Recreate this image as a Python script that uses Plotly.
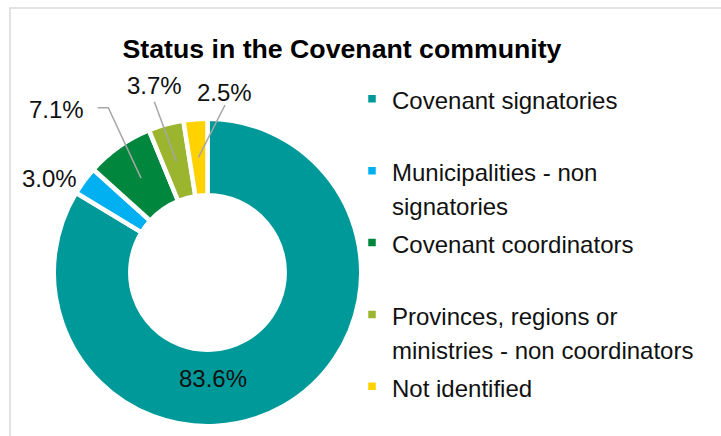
import math
import plotly.graph_objects as go

# Status categories and their shares (%)
categories = [
    "Covenant signatories",
    "Municipalities - non signatories",
    "Covenant coordinators",
    "Provinces, regions or ministries - non coordinators",
    "Not identified",
]
shares = [83.6, 3.0, 7.1, 3.7, 2.5]
colors = ["#009999", "#00B0F0", "#00873D", "#9BB52F", "#FFD200"]

# Legend text, wrapped the way it is laid out in the legend column
legend_lines = [
    ["Covenant signatories", ""],
    ["Municipalities - non", "signatories"],
    ["Covenant coordinators", ""],
    ["Provinces, regions or", "ministries - non coordinators"],
    ["Not identified"],
]

W, H = 721, 436
FONT = "Liberation Sans, Arial, sans-serif"


def px(x):
    return x / W


def py(y):
    return 1 - y / H


# donut geometry in pixels
cx, cy, R = 207.5, 272.5, 153.75
hole = 0.502
dom_x = [px(cx - R), px(cx + R)]
dom_y = [py(cy + R), py(cy - R)]


def legend_entry(lines):
    out = []
    for s in lines:
        out.append('<span style="font-size:24px">' + s + "</span>" if s else " ")
    return "<br>".join(out)


legend_text = [legend_entry(l) for l in legend_lines]

fig = go.Figure(
    go.Pie(
        labels=legend_text,
        values=shares,
        sort=False,
        direction="clockwise",
        rotation=0,
        hole=hole,
        textinfo="none",
        marker=dict(colors=colors, line=dict(color="white", width=4.5)),
        domain=dict(x=dom_x, y=dom_y),
        hoverinfo="skip",
    )
)

# label anchor positions (pixels) and leader line start points
label_pos = [(213.5, 378.5), (49, 178), (56.5, 109), (154, 85), (224.5, 92.5)]
leader_start = [None, None, [(97.7, 107.7), (108.3, 107.7)], [(154.3, 101.7)], [(225, 105)]]

total = sum(shares)
r_mid = R * (1 + hole) / 2
annotations = []
shapes = []
cum = 0.0
for i, v in enumerate(shares):
    lx, ly = label_pos[i]
    annotations.append(dict(
        x=px(lx), y=py(ly), xref="paper", yref="paper",
        text=f"{v:.1f}%", showarrow=False,
        xanchor="center", yanchor="middle",
        font=dict(family=FONT, size=24, color="#111111"),
    ))
    ang = 2 * math.pi * (cum + v / 2) / total
    if leader_start[i]:
        tx = cx + r_mid * math.sin(ang)
        ty = cy - r_mid * math.cos(ang)
        pts = leader_start[i] + [(tx, ty)]
        path = "M " + " L ".join(f"{px(a)},{py(b)}" for a, b in pts)
        shapes.append(dict(type="path", xref="paper", yref="paper", path=path,
                           line=dict(color="#A6A6A6", width=1.5)))
    cum += v

# chart frame
shapes.append(dict(type="rect", xref="paper", yref="paper",
                   x0=px(10), y0=py(8), x1=px(735), y1=py(450),
                   line=dict(color="#D9D9D9", width=1.5), fillcolor="rgba(0,0,0,0)"))

fig.update_layout(
    width=W, height=H,
    margin=dict(l=0, r=0, t=0, b=0),
    paper_bgcolor="white",
    title=dict(text="<b>Status in the Covenant community</b>",
               x=px(342), xanchor="center", y=py(49), yanchor="middle",
               font=dict(family=FONT, size=26.7, color="#000000")),
    legend=dict(
        x=px(352), xanchor="left", y=py(75), yanchor="top",
        font=dict(family=FONT, size=26.5, color="#111111"),
        valign="top", bgcolor="rgba(0,0,0,0)",
    ),
    annotations=annotations,
    shapes=shapes,
)

fig.write_html("out.html")
